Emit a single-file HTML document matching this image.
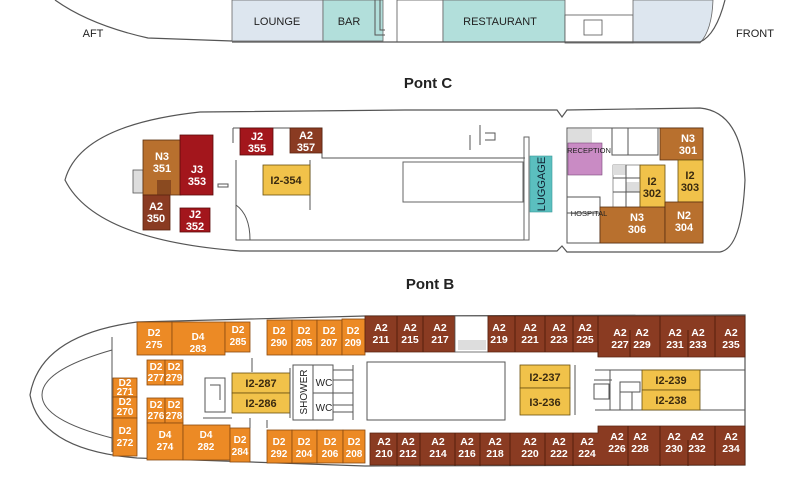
<!DOCTYPE html>
<html><head><meta charset="utf-8"><style>
html,body{margin:0;padding:0;background:#fff;width:810px;height:500px;overflow:hidden}
svg{display:block}
text{font-family:"Liberation Sans Narrow","Liberation Sans",sans-serif;}
.w{fill:#fff;font-size:11px;font-weight:bold;text-anchor:middle}
.d{fill:#3a2a10;font-size:11px;font-weight:bold;text-anchor:middle}
.k{fill:#222;font-size:11px;text-anchor:middle}
.t{fill:#222;font-family:"Liberation Sans",sans-serif;font-size:15px;font-weight:bold;text-anchor:middle}
.A{fill:#8a3b22;stroke:#5a2410;stroke-width:0.8}
.D{fill:#ec8a25;stroke:#8a4a10;stroke-width:0.8}
.Y{fill:#f1c24a;stroke:#6a5010;stroke-width:0.8}
.R{fill:#a3161c;stroke:#5a0a0a;stroke-width:0.8}
.N{fill:#b8702e;stroke:#5a3010;stroke-width:0.8}
.L{fill:none;stroke:#555;stroke-width:1}
</style></head><body>
<svg width="810" height="500" viewBox="0 0 810 500">
<!-- Pont D bottom -->
<rect x="232" y="0" width="91" height="41" fill="#dde6ef" stroke="#666" stroke-width="0.8"/>
<rect x="323" y="0" width="60" height="41" fill="#b2dfdb" stroke="#666" stroke-width="0.8"/>
<rect x="397" y="0" width="46" height="42" fill="#fff" stroke="#555" stroke-width="0.8"/>
<rect x="443" y="0" width="122" height="42" fill="#b2dfdb" stroke="#666" stroke-width="0.8"/>
<rect x="565" y="15" width="68" height="28" fill="#fff" stroke="#555" stroke-width="0.8"/>
<rect x="584" y="20" width="18" height="15" fill="none" stroke="#555" stroke-width="0.8"/>
<path d="M633 0 L705 0 L713 0 Q712 30 700 43 L633 43 Z" fill="#dde6ef" stroke="#666" stroke-width="0.8"/>
<path d="M375 0 V35 H385" class="L"/><path d="M380 0 V30 H385" class="L"/>
<path d="M55 0 Q90 25 148 38 L232 41 M232 42 H700 Q716 35 725 0" fill="none" stroke="#555" stroke-width="1.2"/>
<text x="277" y="25" class="k">LOUNGE</text>
<text x="349" y="25" class="k">BAR</text>
<text x="500" y="25" class="k">RESTAURANT</text>
<text x="93" y="37" class="k">AFT</text>
<text x="755" y="37" class="k">FRONT</text>
<text x="428" y="88" class="t">Pont C</text>
<text x="430" y="289" class="t">Pont B</text>

<!-- Pont C hull -->
<path d="M200 112 L405 110 L557 110 L562 117 L567 110 L700 108 Q742 112 745 180 Q742 248 720 252 L567 252 L562 246 L557 251 L240 251 Q95 240 65 180 Q80 125 200 112 Z" fill="#fff" stroke="#555" stroke-width="1.2"/>
<path d="M233 128 H322 V153 M233 128 V143" class="L"/>
<rect x="403" y="162" width="120" height="40" fill="none" stroke="#666"/>
<path d="M236 160 V240 H525 M322 153 V158 H525 M310 160 V210 M236 205 Q250 215 250 240" class="L"/>
<rect x="524" y="137" width="5" height="103" fill="none" stroke="#666"/>
<path d="M470 135 V150 M480 125 V145 M485 133 H495 V140 H485" class="L"/>
<rect x="133" y="170" width="10" height="23" fill="#ddd" stroke="#555" stroke-width="0.8"/>
<rect x="143" y="140" width="38" height="55" class="N"/>
<rect x="157" y="180" width="14" height="15" fill="#8a4a20"/>
<rect x="180" y="135" width="33" height="60" class="R"/>
<rect x="143" y="195" width="27" height="35" class="A"/>
<rect x="180" y="208" width="30" height="24" class="R"/>
<rect x="240" y="128" width="33" height="27" class="R"/>
<rect x="290" y="128" width="32" height="25" class="A"/>
<rect x="263" y="165" width="47" height="30" class="Y"/>
<rect x="218" y="184" width="10" height="3" fill="none" stroke="#555"/>
<text x="162" y="160" class="w">N3</text><text x="162" y="172" class="w">351</text>
<text x="197" y="173" class="w">J3</text><text x="197" y="185" class="w">353</text>
<text x="156" y="210" class="w">A2</text><text x="156" y="222" class="w">350</text>
<text x="195" y="218" class="w">J2</text><text x="195" y="230" class="w">352</text>
<text x="257" y="140" class="w">J2</text><text x="257" y="152" class="w">355</text>
<text x="306" y="139" class="w">A2</text><text x="306" y="151" class="w">357</text>
<text x="286" y="184" class="d">I2-354</text>
<rect x="530" y="156" width="22" height="56" fill="#5bbfbf" stroke="#3a9a9a" stroke-width="0.6"/>
<text transform="translate(545,184) rotate(-90)" class="k" style="fill:#123;font-size:11px">LUGGAGE</text>
<!-- front rooms C -->
<rect x="567" y="128" width="136" height="115" fill="#fff" stroke="#555"/>
<rect x="568" y="129" width="24" height="14" fill="#ddd"/>
<rect x="568" y="143" width="34" height="32" fill="#c98bc4" stroke="#7a4a7a" stroke-width="0.6"/>
<text x="589" y="153" class="k" style="font-size:7.5px;fill:#222">RECEPTION</text>
<path d="M612 128 V155 H658 V128 M628 128 V155 M567 197 H600 V243 M567 213 H600" class="L"/>
<rect x="660" y="128" width="43" height="32" class="N"/>
<rect x="613" y="165" width="27" height="43" fill="#fff" stroke="#555" stroke-width="0.6"/>
<rect x="613" y="165" width="13" height="10" fill="#ddd"/><rect x="626" y="182" width="13" height="10" fill="#ddd"/>
<path d="M613 178 H640 M613 192 H640 M626 165 V208" class="L"/>
<rect x="640" y="165" width="25" height="43" class="Y"/>
<rect x="678" y="160" width="25" height="42" class="Y"/>
<rect x="600" y="207" width="65" height="36" class="N"/>
<rect x="665" y="202" width="38" height="41" class="N"/>
<text x="589" y="216" class="k" style="font-size:7.5px">HOSPITAL</text>
<text x="688" y="142" class="w">N3</text><text x="688" y="154" class="w">301</text>
<text x="652" y="185" class="d">I2</text><text x="652" y="197" class="d">302</text>
<text x="690" y="179" class="d">I2</text><text x="690" y="191" class="d">303</text>
<text x="637" y="221" class="w">N3</text><text x="637" y="233" class="w">306</text>
<text x="684" y="219" class="w">N2</text><text x="684" y="231" class="w">304</text>

<!-- Pont B hull -->
<path d="M137 322 L365 316 L745 315 L745 465 L365 466 L137 458 Q40 450 30 395 Q40 335 137 322 Z" fill="#fff" stroke="#555" stroke-width="1.2"/>
<path d="M112 350 Q42 370 42 395 Q42 420 112 438 M112 337 V452" class="L"/>
<!-- orange cabins -->
<rect x="137" y="322" width="35" height="33" class="D"/>
<rect x="172" y="322" width="53" height="33" class="D"/>
<rect x="225" y="322" width="25" height="30" class="D"/>
<rect x="267" y="320" width="25" height="35" class="D"/>
<rect x="292" y="320" width="25" height="35" class="D"/>
<rect x="317" y="320" width="25" height="35" class="D"/>
<rect x="342" y="319" width="23" height="36" class="D"/>
<rect x="147" y="360" width="18" height="25" class="D"/>
<rect x="165" y="360" width="18" height="25" class="D"/>
<rect x="147" y="398" width="18" height="25" class="D"/>
<rect x="165" y="398" width="18" height="25" class="D"/>
<rect x="113" y="378" width="24" height="19" class="D"/>
<rect x="113" y="397" width="24" height="21" class="D"/>
<rect x="113" y="418" width="24" height="38" class="D"/>
<rect x="147" y="423" width="36" height="37" class="D"/>
<rect x="183" y="425" width="47" height="35" class="D"/>
<rect x="230" y="428" width="20" height="34" class="D"/>
<rect x="267" y="430" width="25" height="33" class="D"/>
<rect x="292" y="430" width="25" height="33" class="D"/>
<rect x="317" y="430" width="26" height="33" class="D"/>
<rect x="343" y="430" width="22" height="33" class="D"/>
<g class="w" style="font-size:10px">
<text x="154" y="336">D2</text><text x="154" y="348">275</text>
<text x="198" y="340">D4</text><text x="198" y="352">283</text>
<text x="238" y="333">D2</text><text x="238" y="345">285</text>
<text x="279" y="334">D2</text><text x="279" y="346">290</text>
<text x="304" y="334">D2</text><text x="304" y="346">205</text>
<text x="329" y="334">D2</text><text x="329" y="346">207</text>
<text x="353" y="334">D2</text><text x="353" y="346">209</text>
<text x="156" y="370">D2</text><text x="156" y="381">277</text>
<text x="174" y="370">D2</text><text x="174" y="381">279</text>
<text x="156" y="408">D2</text><text x="156" y="419">276</text>
<text x="174" y="408">D2</text><text x="174" y="419">278</text>
<text x="125" y="386">D2</text><text x="125" y="395">271</text>
<text x="125" y="405">D2</text><text x="125" y="415">270</text>
<text x="125" y="434">D2</text><text x="125" y="446">272</text>
<text x="165" y="438">D4</text><text x="165" y="450">274</text>
<text x="206" y="438">D4</text><text x="206" y="450">282</text>
<text x="240" y="443">D2</text><text x="240" y="455">284</text>
<text x="279" y="445">D2</text><text x="279" y="457">292</text>
<text x="304" y="445">D2</text><text x="304" y="457">204</text>
<text x="330" y="445">D2</text><text x="330" y="457">206</text>
<text x="354" y="445">D2</text><text x="354" y="457">208</text>
</g>
<!-- middle B -->
<rect x="232" y="373" width="58" height="20" class="Y"/><rect x="232" y="393" width="58" height="20" class="Y"/>
<text x="261" y="387" class="d">I2-287</text><text x="261" y="407" class="d">I2-286</text>
<path d="M205 378 H225 V412 H205 Z M210 385 H220 V400 M203 418 H232 M290 368 V418 M252 358 V372 M250 428 V418 M267 428 V420" class="L"/>
<rect x="293" y="365" width="40" height="55" fill="#fff" stroke="#555"/>
<path d="M313 365 V420 M313 393 H353 M333 370 H353 M333 380 H353 M333 405 H353 M333 412 H353 M353 365 V420" class="L"/>
<text transform="translate(307,392) rotate(-90)" class="k" style="font-size:10px">SHOWER</text>
<text x="324" y="386" class="k" style="font-size:10px">WC</text><text x="324" y="411" class="k" style="font-size:10px">WC</text>
<rect x="367" y="362" width="138" height="58" fill="#fff" stroke="#555"/>
<rect x="520" y="365" width="50" height="23" class="Y"/><rect x="520" y="388" width="50" height="27" class="Y"/>
<text x="545" y="381" class="d">I2-237</text><text x="545" y="406" class="d">I3-236</text>
<path d="M575 365 V415 M595 370 H745 M595 410 H745 M610 370 V410 M594 380 H612" class="L"/>
<rect x="594" y="384" width="15" height="15" fill="none" stroke="#555"/>
<rect x="620" y="382" width="20" height="10" fill="none" stroke="#555"/>
<rect x="620" y="392" width="12" height="18" fill="none" stroke="#555"/>
<rect x="642" y="370" width="58" height="20" class="Y"/><rect x="642" y="390" width="58" height="20" class="Y"/>
<text x="671" y="384" class="d">I2-239</text><text x="671" y="404" class="d">I2-238</text>
<!-- A2 brown -->
<path d="M365 316 H455 V352 H365 Z" class="A"/>
<rect x="455" y="316" width="33" height="36" fill="#fff" stroke="#555" stroke-width="0.8"/>
<rect x="458" y="340" width="28" height="10" fill="#ddd"/>
<path d="M488 316 H745 V357 H598 V352 H488 Z" class="A"/>
<path d="M370 433 H598 V426 H745 V465 H370 Z" class="A"/>
<path d="M397 316 V352 M423 316 V352 M515 316 V352 M545 316 V352 M573 316 V352 M598 316 V357 M630 330 V357 M660 316 V357 M688 330 V357 M715 316 V357 M397 433 V466 M420 433 V466 M455 433 V466 M480 433 V466 M510 433 V466 M545 433 V466 M573 433 V466 M628 426 V466 M660 426 V466 M688 440 V466 M715 426 V466" fill="none" stroke="#4a1a08" stroke-width="0.8"/>
<g class="w" style="font-size:10.5px">
<text x="381" y="331">A2</text><text x="381" y="343">211</text>
<text x="410" y="331">A2</text><text x="410" y="343">215</text>
<text x="440" y="331">A2</text><text x="440" y="343">217</text>
<text x="499" y="331">A2</text><text x="499" y="343">219</text>
<text x="530" y="331">A2</text><text x="530" y="343">221</text>
<text x="559" y="331">A2</text><text x="559" y="343">223</text>
<text x="585" y="331">A2</text><text x="585" y="343">225</text>
<text x="620" y="336">A2</text><text x="620" y="348">227</text>
<text x="642" y="336">A2</text><text x="642" y="348">229</text>
<text x="675" y="336">A2</text><text x="675" y="348">231</text>
<text x="698" y="336">A2</text><text x="698" y="348">233</text>
<text x="731" y="336">A2</text><text x="731" y="348">235</text>
<text x="384" y="445">A2</text><text x="384" y="457">210</text>
<text x="408" y="445">A2</text><text x="408" y="457">212</text>
<text x="438" y="445">A2</text><text x="438" y="457">214</text>
<text x="467" y="445">A2</text><text x="467" y="457">216</text>
<text x="495" y="445">A2</text><text x="495" y="457">218</text>
<text x="530" y="445">A2</text><text x="530" y="457">220</text>
<text x="559" y="445">A2</text><text x="559" y="457">222</text>
<text x="587" y="445">A2</text><text x="587" y="457">224</text>
<text x="617" y="440">A2</text><text x="617" y="452">226</text>
<text x="640" y="440">A2</text><text x="640" y="452">228</text>
<text x="674" y="440">A2</text><text x="674" y="452">230</text>
<text x="697" y="440">A2</text><text x="697" y="452">232</text>
<text x="731" y="440">A2</text><text x="731" y="452">234</text>
</g>
</svg>
</body></html>
